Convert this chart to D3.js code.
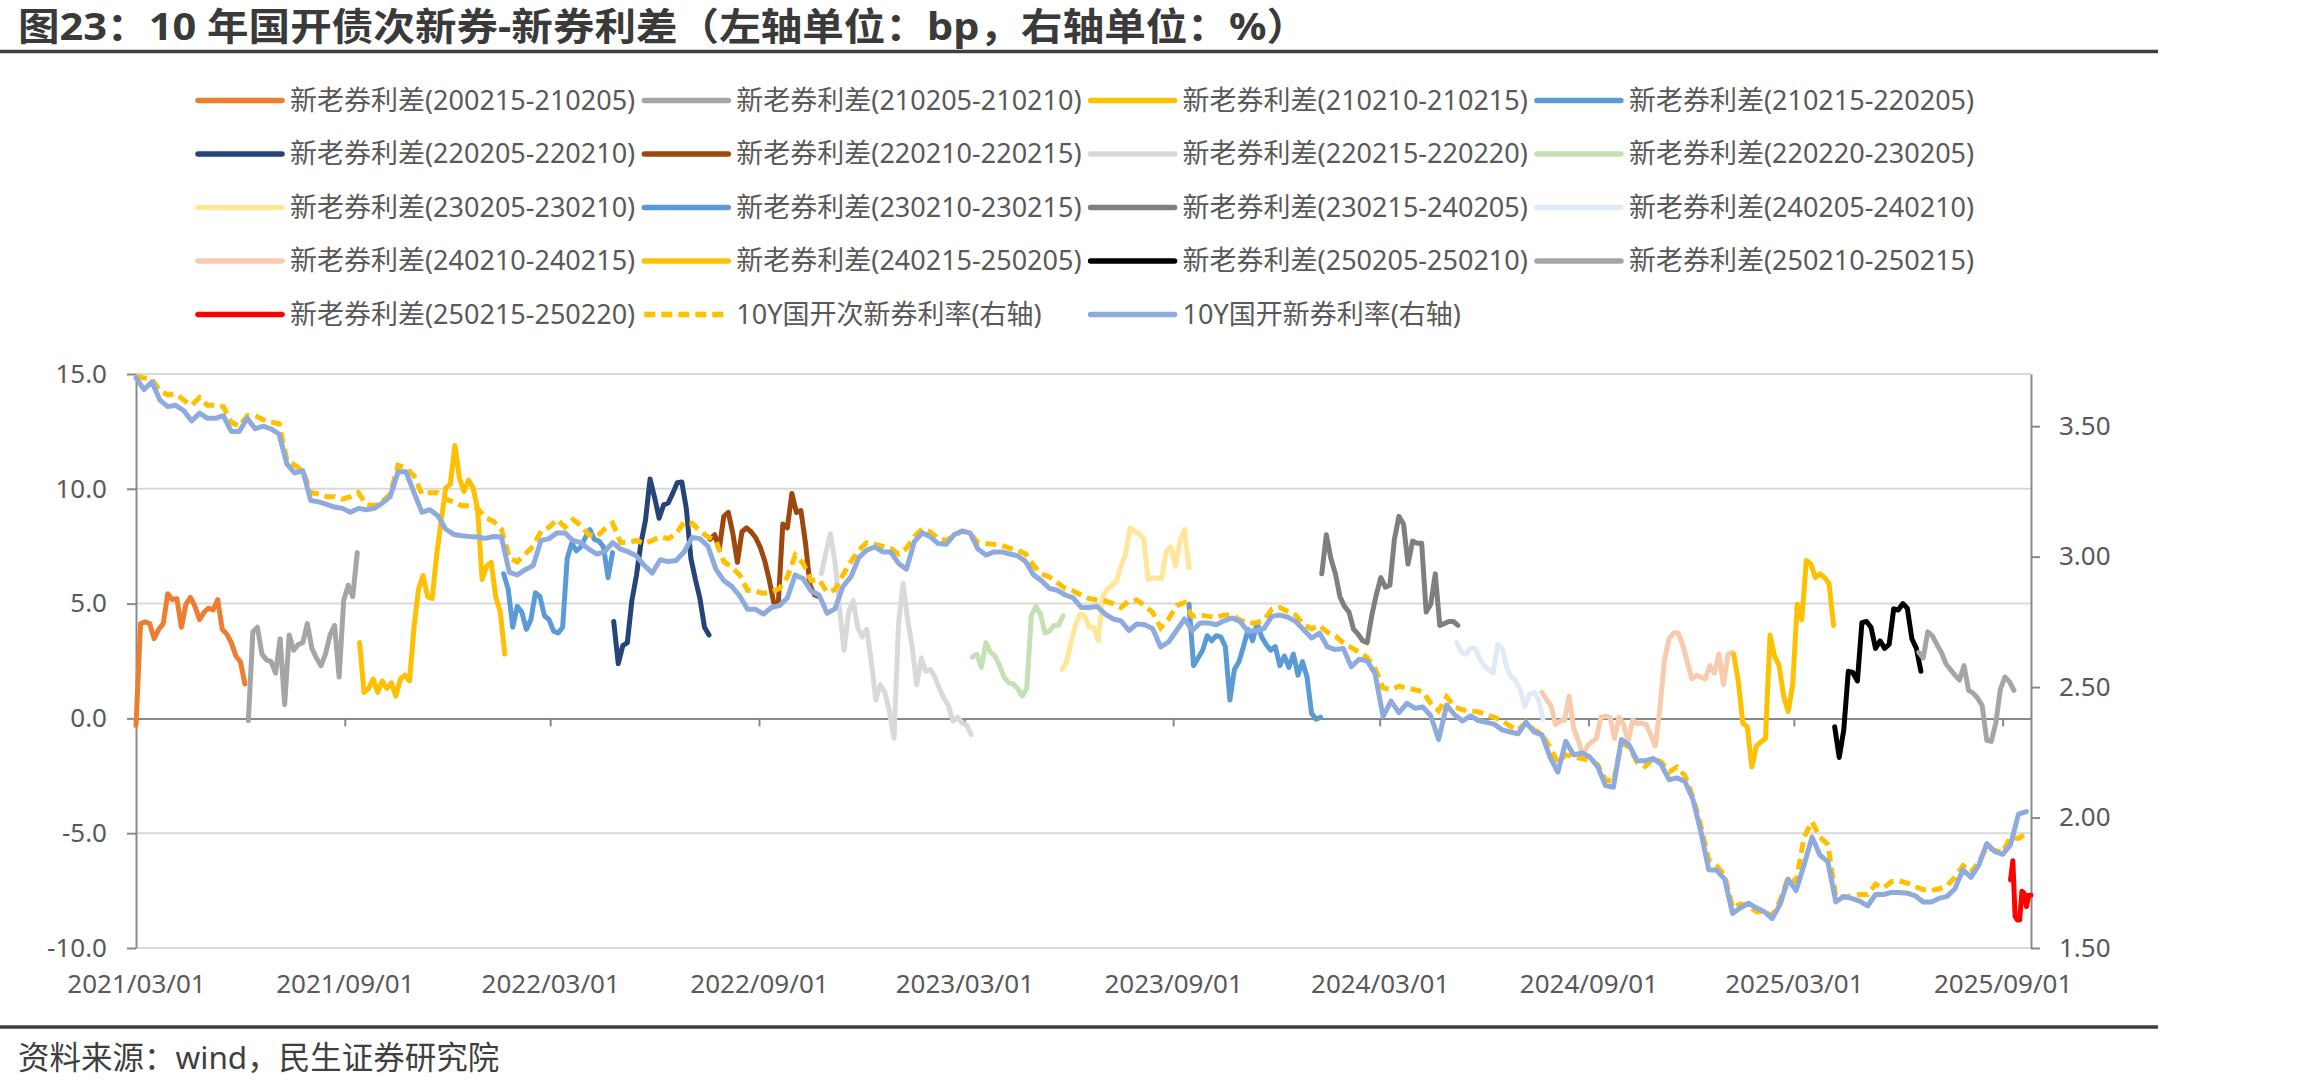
<!DOCTYPE html>
<html>
<head>
<meta charset="utf-8">
<script src="https://cdnjs.cloudflare.com/ajax/libs/d3/7.8.5/d3.min.js"></script>
<style>
body { margin: 0; background: #fff; }
text { font-family: "Noto Sans", "Noto Sans CJK SC", sans-serif; }
</style>
</head>
<body>
<div id="viz"></div>
<script>
var titleText = "图23：10 年国开债次新券-新券利差（左轴单位：bp，右轴单位：%）";
var sourceText = "资料来源：wind，民生证券研究院";

// right axis series, weekly from 2021-03-01
var yieldStart = "2021-03-01";
var yieldStep = 7;
var yieldNames = ["10Y国开次新券利率(右轴)", "10Y国开新券利率(右轴)"];

var cdbNew = [
    3.685, 3.64, 3.67, 3.60, 3.575, 3.58, 3.56, 3.52, 3.55, 3.53,
    3.53, 3.54, 3.48, 3.48, 3.53, 3.49, 3.50, 3.49, 3.47, 3.355,
    3.32, 3.33, 3.215, 3.21, 3.20, 3.19, 3.185, 3.17, 3.185, 3.18,
    3.185, 3.205, 3.23, 3.325, 3.325, 3.245, 3.17, 3.18, 3.157, 3.105,
    3.085, 3.08, 3.077, 3.075, 3.07, 3.077, 3.075, 2.94, 2.93, 2.95,
    2.966, 3.062, 3.069, 3.091, 3.091, 3.062, 3.054, 3.029, 3.01, 3.018,
    3.054, 3.029, 3.018, 3.003, 2.966, 2.937, 2.988, 2.981, 2.985, 3.018,
    3.073, 3.069, 3.04, 2.952, 2.908, 2.886, 2.849, 2.798, 2.798, 2.78,
    2.805, 2.812, 2.842, 2.93, 2.915, 2.868, 2.853, 2.783, 2.80, 2.886,
    2.922, 2.996, 3.025, 3.037, 3.018, 3.018, 2.974, 2.952, 3.058, 3.091,
    3.076, 3.05, 3.047, 3.084, 3.098, 3.091, 3.029, 3.006, 3.018, 3.018,
    3.01, 3.003, 2.981, 2.93, 2.908, 2.878, 2.871, 2.853, 2.842, 2.805,
    2.805, 2.809, 2.78, 2.761, 2.754, 2.717, 2.742, 2.739, 2.724, 2.654,
    2.673, 2.717, 2.761, 2.717, 2.746, 2.746, 2.739, 2.754, 2.765, 2.751,
    2.713, 2.717, 2.724, 2.771, 2.776, 2.768, 2.751, 2.72, 2.688, 2.707,
    2.654, 2.644, 2.648, 2.578, 2.607, 2.60, 2.551, 2.387, 2.446, 2.402,
    2.438, 2.419, 2.424, 2.39, 2.299, 2.431, 2.394, 2.37, 2.39, 2.372,
    2.365, 2.358, 2.336, 2.328, 2.321, 2.365, 2.328, 2.317, 2.233, 2.174,
    2.292, 2.24, 2.248, 2.233, 2.196, 2.123, 2.116, 2.299, 2.277, 2.218,
    2.218, 2.226, 2.204, 2.145, 2.152, 2.138, 2.07, 1.947, 1.80, 1.798,
    1.764, 1.632, 1.654, 1.672, 1.654, 1.639, 1.613, 1.669, 1.764, 1.72,
    1.818, 1.925, 1.856, 1.83, 1.676, 1.698, 1.69, 1.68, 1.661, 1.705,
    1.705, 1.713, 1.713, 1.71, 1.70, 1.676, 1.676, 1.69, 1.698, 1.727,
    1.80, 1.771, 1.818, 1.90, 1.87, 1.859, 1.896, 2.013, 2.023
];

var cdbSubNew = [
    3.69, 3.685, 3.68, 3.635, 3.62, 3.625, 3.60, 3.58, 3.61, 3.58,
    3.58, 3.575, 3.515, 3.50, 3.54, 3.54, 3.525, 3.515, 3.51, 3.37,
    3.35, 3.33, 3.245, 3.24, 3.23, 3.23, 3.22, 3.23, 3.245, 3.20,
    3.195, 3.21, 3.24, 3.35, 3.34, 3.31, 3.24, 3.245, 3.245, 3.22,
    3.21, 3.195, 3.195, 3.185, 3.15, 3.135, 3.105, 2.995, 2.98, 3.01,
    3.04, 3.098, 3.113, 3.142, 3.113, 3.142, 3.12, 3.084, 3.076, 3.106,
    3.128, 3.054, 3.054, 3.062, 3.05, 3.062, 3.076, 3.069, 3.088, 3.132,
    3.128, 3.098, 3.076, 3.062, 2.981, 2.959, 2.93, 2.871, 2.868, 2.859,
    2.864, 2.878, 2.922, 3.006, 2.974, 2.908, 2.912, 2.864, 2.874, 2.93,
    2.981, 3.025, 3.054, 3.047, 3.04, 3.032, 3.01, 3.032, 3.078, 3.106,
    3.095, 3.069, 3.062, 3.08, 3.098, 3.091, 3.054, 3.05, 3.047, 3.043,
    3.032, 3.025, 3.01, 2.966, 2.933, 2.922, 2.90, 2.878, 2.868, 2.853,
    2.839, 2.834, 2.83, 2.82, 2.805, 2.83, 2.834, 2.812, 2.786, 2.727,
    2.761, 2.812, 2.824, 2.771, 2.776, 2.771, 2.768, 2.776, 2.776, 2.757,
    2.746, 2.746, 2.757, 2.798, 2.805, 2.79, 2.776, 2.739, 2.724, 2.736,
    2.71, 2.695, 2.669, 2.651, 2.633, 2.614, 2.57, 2.497, 2.49, 2.504,
    2.497, 2.49, 2.482, 2.438, 2.409, 2.463, 2.424, 2.413, 2.409, 2.405,
    2.394, 2.384, 2.372, 2.35, 2.336, 2.365, 2.336, 2.321, 2.27, 2.211,
    2.24, 2.233, 2.226, 2.218, 2.204, 2.145, 2.138, 2.284, 2.27, 2.211,
    2.196, 2.226, 2.214, 2.174, 2.194, 2.16, 2.08, 1.969, 1.837, 1.815,
    1.779, 1.654, 1.669, 1.661, 1.639, 1.639, 1.625, 1.683, 1.771, 1.754,
    1.925, 1.984, 1.925, 1.896, 1.695, 1.694, 1.70, 1.705, 1.705, 1.745,
    1.73, 1.754, 1.757, 1.749, 1.735, 1.724, 1.72, 1.727, 1.739, 1.771,
    1.815, 1.789, 1.83, 1.886, 1.874, 1.867, 1.925, 1.92, 1.94
];

// left axis series: new-old bond spreads (bp)
var spreadNames = [
    "新老券利差(200215-210205)", "新老券利差(210205-210210)", "新老券利差(210210-210215)", "新老券利差(210215-220205)",
    "新老券利差(220205-220210)", "新老券利差(220210-220215)", "新老券利差(220215-220220)", "新老券利差(220220-230205)",
    "新老券利差(230205-230210)", "新老券利差(230210-230215)", "新老券利差(230215-240205)", "新老券利差(240205-240210)",
    "新老券利差(240210-240215)", "新老券利差(240215-250205)", "新老券利差(250205-250210)", "新老券利差(250210-250215)",
    "新老券利差(250215-250220)"
];

var spreadStart = [
    "2021-03-01", "2021-06-08", "2021-09-14", "2022-01-19",
    "2022-04-26", "2022-07-20", "2022-10-26", "2023-03-08",
    "2023-05-26", "2023-09-15", "2024-01-10", "2024-05-08",
    "2024-07-22", "2025-01-07", "2025-04-06", "2025-06-19",
    "2025-09-08"
];

var spreadStep = [4, 4, 4, 4, 4, 4, 4, 4, 4, 4, 4, 4, 4, 4, 4, 4, 2];

var spreadValues = [
    [-0.3, 4.13, 4.2, 4.13, 3.47, 3.88, 4.13, 5.43, 5.17, 5.22, 3.97, 4.97, 5.27, 4.88, 4.3, 4.63, 4.8, 4.72, 5.17, 3.88, 3.67, 3.3, 2.72, 2.47, 1.5],
    [-0.1, 3.77, 3.97, 2.8, 2.55, 2.47, 1.97, 3.47, 0.6, 3.63, 2.97, 3.22, 3.3, 4.13, 3.05, 2.63, 2.3, 2.8, 3.63, 4.05, 1.8, 5.13, 5.8, 5.3, 7.22],
    [3.3, 1.13, 1.3, 1.72, 1.13, 1.63, 1.3, 1.55, 0.97, 1.72, 1.88, 1.63, 3.97, 5.63, 6.22, 5.3, 5.22, 7.13, 8.63, 10.05, 10.2, 11.88, 10.47, 9.88, 10.38, 10.05, 9.13, 6.05, 6.63, 6.8, 5.3, 4.63, 2.8],
    [6.3, 5.63, 3.97, 4.88, 4.63, 3.88, 4.3, 5.47, 5.3, 4.47, 4.3, 3.8, 3.72, 3.97, 6.97, 7.63, 7.3, 7.47, 7.88, 8.22, 7.8, 7.72, 7.47, 6.13, 7.22],
    [4.22, 2.38, 3.17, 3.3, 5.13, 6.22, 7.63, 8.63, 10.43, 9.63, 8.72, 9.3, 9.38, 9.8, 10.27, 10.3, 9.13, 6.97, 6.05, 5.22, 3.97, 3.63],
    [7.8, 8.0, 7.38, 8.8, 8.97, 8.05, 6.8, 8.13, 8.3, 8.13, 7.88, 7.47, 6.88, 6.05, 5.05, 4.97, 8.47, 8.3, 9.8, 8.97, 9.05, 7.63, 5.8, 5.38, 5.3],
    [6.3, 7.22, 8.05, 6.8, 4.8, 2.97, 4.63, 5.13, 3.97, 3.55, 3.88, 2.47, 0.8, 1.47, 1.13, 0.3, -0.87, 4.13, 5.88, 4.3, 3.13, 1.47, 2.63, 2.05, 2.13, 1.8, 1.3, 0.88, 0.55, -0.12, 0.05, -0.2, -0.28, -0.7],
    [2.67, 2.8, 2.22, 3.3, 2.88, 2.72, 2.3, 1.8, 1.55, 1.5, 1.3, 0.97, 1.3, 4.47, 4.88, 4.55, 3.72, 3.8, 4.05, 4.05, 4.47],
    [2.13, 2.43, 3.3, 4.1, 4.55, 4.47, 3.97, 3.97, 3.38, 5.3, 5.63, 5.8, 5.97, 6.63, 7.13, 8.3, 8.13, 8.05, 7.8, 6.05, 6.13, 6.1, 6.1, 7.3, 7.47, 6.63, 7.72, 8.22, 6.55],
    [4.97, 2.3, 2.63, 2.97, 3.6, 3.38, 3.6, 3.55, 3.13, 0.8, 2.13, 2.47, 3.13, 3.88, 3.38, 4.13, 3.55, 3.22, 2.97, 3.13, 2.3, 2.72, 2.22, 2.8, 1.88, 2.47, 1.8, 0.22, -0.03, 0.05],
    [6.3, 8.0, 6.97, 6.3, 5.3, 4.88, 4.63, 3.88, 3.67, 3.38, 3.3, 4.47, 5.38, 6.13, 5.72, 5.8, 7.8, 8.8, 8.47, 6.72, 7.72, 7.63, 7.63, 4.63, 4.97, 6.3, 4.05, 4.13, 4.22, 4.22, 4.05],
    [3.3, 2.88, 2.8, 3.05, 3.05, 2.63, 2.3, 2.13, 1.97, 3.22, 3.05, 2.22, 1.8, 1.63, 1.22, 0.5, 1.05, 1.13, 0.8, -0.03],
    [1.13, 0.83, 0.55, -0.28, -0.12, -0.07, 0.97, -0.45, -0.95, -1.62, -1.2, -1.03, -0.87, 0.05, 0.1, 0.05, -0.87, 0.05, -0.28, -1.0, -0.07, -0.23, -0.2, -0.28, -0.73, -1.2, 0.47, 2.55, 3.47, 3.72, 3.72, 3.22, 2.47, 1.72, 1.88, 1.8, 1.72, 2.3, 1.97, 2.8, 1.47, 2.8, 2.88],
    [2.8, 1.63, -0.2, -0.37, -2.12, -1.2, -1.03, -0.87, 3.63, 2.72, 2.3, 0.97, 0.3, 1.47, 4.97, 4.3, 6.88, 6.72, 6.13, 6.3, 6.13, 5.88, 4.05],
    [-0.37, -1.7, -0.5, 2.05, 2.0, 1.63, 4.17, 4.22, 3.97, 3.05, 3.38, 3.05, 3.22, 4.77, 4.72, 5.0, 4.8, 3.47, 3.05, 2.05],
    [2.88, 2.63, 3.77, 3.6, 3.22, 2.88, 2.38, 2.13, 1.88, 1.67, 2.3, 1.22, 1.1, 0.88, 0.55, -0.95, -1.0, -0.2, 1.27, 1.8, 1.6, 1.22],
    [-7.03, -6.2, -8.62, -8.78, -8.78, -7.53, -7.62, -8.2, -7.7, -7.7]
];

var xTickLabels = ["2021/03/01", "2021/09/01", "2022/03/01", "2022/09/01", "2023/03/01",
    "2023/09/01", "2024/03/01", "2024/09/01", "2025/03/01", "2025/09/01"];
var xEnd = "2025/09/26";
var leftTicks = [-10, -5, 0, 5, 10, 15];
var rightTicks = [1.5, 2.0, 2.5, 3.0, 3.5];
var rightMax = 3.7;

var spreadColors = ["#ed7d31", "#a5a5a5", "#ffc000", "#5b9bd5", "#264478", "#9e480e", "#d9d9d9", "#c5e0b4",
    "#ffe699", "#5b9bd5", "#7f7f7f", "#deebf7", "#f8cbad", "#ffc000", "#000000", "#a5a5a5", "#ff0000"];
var yieldColors = ["#ffc000", "#8faadc"];


const width = 2310;
const height = 1090;
var plot = { left: 136, right: 2031, top: 374, bottom: 948 };

var svg = d3.select("#viz")
    .append("svg")
    .attr("width", width)
    .attr("height", height)
    .style("display", "block");

var parseDash = d3.timeParse("%Y-%m-%d");
var parseSlash = d3.timeParse("%Y/%m/%d");

var x = d3.scaleTime()
    .domain([parseSlash(xTickLabels[0]), parseSlash(xEnd)])
    .range([plot.left, plot.right]);
var yL = d3.scaleLinear().domain([leftTicks[0], leftTicks[leftTicks.length - 1]]).range([plot.bottom, plot.top]);
var yR = d3.scaleLinear().domain([rightTicks[0], rightMax]).range([plot.bottom, plot.top]);

function toPoints(start, step, values) {
    var d0 = parseDash(start);
    return values.map(function (v, i) {
        return { date: d3.timeDay.offset(d0, i * step), v: v };
    });
}


//title and rules
svg.append("text")
    .attr("x", 18)
    .attr("y", 40)
    .attr("textLength", 1290)
    .attr("lengthAdjust", "spacingAndGlyphs")
    .style("font-size", "38px")
    .style("font-weight", "700")
    .style("fill", "#3a3a3a")
    .text(titleText);

svg.append("line")
    .attr("x1", 0).attr("x2", 2158)
    .attr("y1", 51.5).attr("y2", 51.5)
    .style("stroke", "#404040")
    .style("stroke-width", 3.5);

svg.append("line")
    .attr("x1", 0).attr("x2", 2158)
    .attr("y1", 1027).attr("y2", 1027)
    .style("stroke", "#404040")
    .style("stroke-width", 3.5);

svg.append("text")
    .attr("x", 18)
    .attr("y", 1069)
    .style("font-size", "31.5px")
    .style("fill", "#3f3f3f")
    .text(sourceText);


//gridlines
svg.append("g").selectAll("line")
    .data(leftTicks.filter(function (d) { return d !== 0; }))
    .enter().append("line")
    .attr("x1", plot.left)
    .attr("x2", plot.right)
    .attr("y1", function (d) { return yL(d); })
    .attr("y2", function (d) { return yL(d); })
    .style("stroke", "#d9d9d9")
    .style("stroke-width", 2);


//axes
function styleAxis(g) {
    g.selectAll(".domain, .tick line").style("stroke", "#898989").style("stroke-width", 2);
    g.selectAll("text").style("font-size", "26px").style("fill", "#595959")
        .style("font-family", "\"Noto Sans\", sans-serif");
}

svg.append("g")
    .attr("transform", "translate(" + plot.left + ",0)")
    .call(d3.axisLeft(yL).tickValues(leftTicks).tickSizeInner(9).tickSizeOuter(0).tickPadding(20)
        .tickFormat(function (d) { return d.toFixed(1); }))
    .call(styleAxis);

svg.append("g")
    .attr("transform", "translate(" + plot.right + ",0)")
    .call(d3.axisRight(yR).tickValues(rightTicks).tickSizeInner(9).tickSizeOuter(0).tickPadding(19)
        .tickFormat(function (d) { return d.toFixed(2); }))
    .call(styleAxis);

var xDates = xTickLabels.map(function (s) { return parseSlash(s); });

// axis line crosses at zero, labels sit low
svg.append("g")
    .attr("transform", "translate(0," + yL(0) + ")")
    .call(d3.axisBottom(x).tickValues(xDates).tickSizeInner(8).tickSizeOuter(0).tickFormat(""))
    .call(styleAxis);

svg.append("g")
    .attr("transform", "translate(0," + plot.bottom + ")")
    .call(d3.axisBottom(x).tickValues(xDates).tickSize(0).tickPadding(27)
        .tickFormat(function (d, i) { return xTickLabels[i]; }))
    .call(styleAxis)
    .call(function (g) { g.select(".domain").remove(); });


//lines
var lineL = d3.line()
    .x(function (d) { return x(d.date); })
    .y(function (d) { return yL(d.v); });
var lineR = d3.line()
    .x(function (d) { return x(d.date); })
    .y(function (d) { return yR(d.v); });

svg.append("g").selectAll("path")
    .data(spreadValues)
    .enter().append("path")
    .attr("d", function (d, i) { return lineL(toPoints(spreadStart[i], spreadStep[i], d)); })
    .style("fill", "none")
    .style("stroke", function (d, i) { return spreadColors[i]; })
    .style("stroke-width", 5)
    .style("stroke-linejoin", "round")
    .style("stroke-linecap", "round");

svg.append("path")
    .attr("d", lineR(toPoints(yieldStart, yieldStep, cdbSubNew)))
    .style("fill", "none")
    .style("stroke", yieldColors[0])
    .style("stroke-width", 5)
    .style("stroke-dasharray", "11,6");

svg.append("path")
    .attr("d", lineR(toPoints(yieldStart, yieldStep, cdbNew)))
    .style("fill", "none")
    .style("stroke", yieldColors[1])
    .style("stroke-width", 5)
    .style("stroke-linejoin", "round")
    .style("stroke-linecap", "round");


//legend
var legendItems = spreadNames.map(function (n, i) {
    return { name: n, color: spreadColors[i], dash: null };
}).concat(yieldNames.map(function (n, i) {
    return { name: n, color: yieldColors[i], dash: i === 0 ? "11,6" : null };
}));

var legend = svg.append("g").selectAll("g")
    .data(legendItems)
    .enter().append("g")
    .attr("transform", function (d, i) {
        return "translate(" + (198 + (i % 4) * 446.3) + "," + (100.5 + Math.floor(i / 4) * 53.5) + ")";
    });

legend.append("line")
    .attr("x1", 0).attr("x2", 84)
    .style("stroke", function (d) { return d.color; })
    .style("stroke-width", 5.5)
    .style("stroke-linecap", function (d) { return d.dash ? "butt" : "round"; })
    .style("stroke-dasharray", function (d) { return d.dash; });

legend.append("text")
    .attr("x", 92)
    .attr("dy", "0.35em")
    .style("font-size", "27px")
    .style("fill", "#595959")
    .text(function (d) { return d.name; });
</script>
</body>
</html>
